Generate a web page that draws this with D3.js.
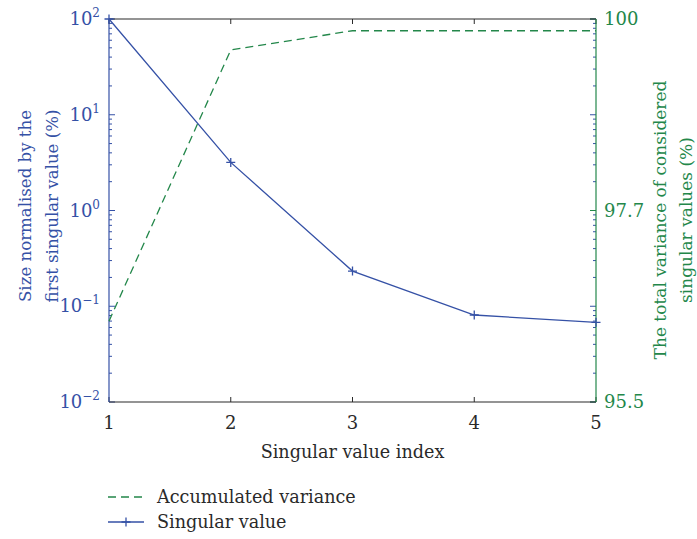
<!DOCTYPE html>
<html>
<head>
<meta charset="utf-8">
<script src="https://cdn.jsdelivr.net/npm/d3@7"></script>
<style>
  html, body { margin: 0; padding: 0; background: #fff; }
  svg text { font-family: "DejaVu Serif", "Liberation Serif", serif; }
</style>
</head>
<body>
<svg id="chart" width="697" height="539"></svg>
<script>
// Singular value spectrum with accumulated variance
const indices = [1, 2, 3, 4, 5];
const singularValues = [100, 3.18, 0.233, 0.081, 0.068];       // % of first singular value
const accumulatedVariance = [96.45, 99.636, 99.862, 99.862, 99.862]; // % of total variance

const xTicks = [1, 2, 3, 4, 5];
const leftTicks = [0.01, 0.1, 1, 10, 100];
const leftTickExponents = ["−2", "−1", "0", "1", "2"];
const rightTicks = [95.5, 97.75, 100];
const rightTickLabels = ["95.5", "97.7", "100"];

const blue = "#3551a6";
const green = "#23874a";
const ink = "#2a2a2a";

const svg = d3.select("#chart");
const m = { left: 109, right: 596, top: 19, bottom: 402 };

const x = d3.scaleLinear().domain([1, 5]).range([m.left, m.right]);
const yL = d3.scaleLog().domain([0.01, 100]).range([m.bottom, m.top]);
const yR = d3.scaleLinear().domain([95.5, 100]).range([m.bottom, m.top]);

const g = svg.append("g");

// minor log ticks for the left scale (mirrored on the right edge)
const minor = [];
for (let e = -2; e < 2; e++) for (let k = 2; k <= 9; k++) minor.push(k * Math.pow(10, e));

// left axis ticks (inward) and mirrored copies on right edge
const tickG = g.append("g").attr("stroke", blue).attr("stroke-width", 1);
minor.forEach(v => {
  const yy = yL(v);
  tickG.append("line").attr("x1", m.left).attr("x2", m.left + 3).attr("y1", yy).attr("y2", yy);
  tickG.append("line").attr("x1", m.right).attr("x2", m.right - 3).attr("y1", yy).attr("y2", yy);
});
leftTicks.forEach(v => {
  const yy = yL(v);
  tickG.append("line").attr("x1", m.left).attr("x2", m.left + 6).attr("y1", yy).attr("y2", yy);
  tickG.append("line").attr("x1", m.right).attr("x2", m.right - 6).attr("y1", yy).attr("y2", yy);
});

// right axis ticks
const tickR = g.append("g").attr("stroke", green).attr("stroke-width", 1);
rightTicks.forEach(v => {
  const yy = yR(v);
  tickR.append("line").attr("x1", m.right).attr("x2", m.right - 6).attr("y1", yy).attr("y2", yy);
});

// x ticks top and bottom
const tickX = g.append("g").attr("stroke", ink).attr("stroke-width", 1);
xTicks.forEach(v => {
  const xx = x(v);
  tickX.append("line").attr("x1", xx).attr("x2", xx).attr("y1", m.bottom).attr("y2", m.bottom - 5);
  tickX.append("line").attr("x1", xx).attr("x2", xx).attr("y1", m.top).attr("y2", m.top + 5);
});

// frame
g.append("line").attr("x1", m.left).attr("x2", m.right).attr("y1", m.top).attr("y2", m.top)
  .attr("stroke", ink).attr("stroke-width", 1.2);
g.append("line").attr("x1", m.left).attr("x2", m.right).attr("y1", m.bottom).attr("y2", m.bottom)
  .attr("stroke", ink).attr("stroke-width", 1.2);
g.append("line").attr("x1", m.left).attr("x2", m.left).attr("y1", m.top).attr("y2", m.bottom)
  .attr("stroke", blue).attr("stroke-width", 1.2);
g.append("line").attr("x1", m.right).attr("x2", m.right).attr("y1", m.top).attr("y2", m.bottom)
  .attr("stroke", green).attr("stroke-width", 1.2);

// tick labels
const fs = 18;
const fsTitle = 17;
xTicks.forEach(v => {
  g.append("text").attr("x", x(v)).attr("y", 429)
    .attr("text-anchor", "middle").attr("font-size", fs).attr("fill", ink).text(v);
});
leftTicks.forEach((v, i) => {
  const t = g.append("text").attr("x", 100).attr("y", yL(v) + 6)
    .attr("text-anchor", "end").attr("font-size", fs).attr("fill", blue);
  t.append("tspan").text("10");
  t.append("tspan").attr("dy", -8).attr("font-size", 12).text(leftTickExponents[i]);
});
rightTicks.forEach((v, i) => {
  g.append("text").attr("x", 604).attr("y", yR(v) + 6)
    .attr("text-anchor", "start").attr("font-size", fs).attr("fill", green).text(rightTickLabels[i]);
});

// axis titles
g.append("text").attr("x", (m.left + m.right) / 2).attr("y", 458)
  .attr("text-anchor", "middle").attr("font-size", 17.6).attr("fill", ink).text("Singular value index");

const lt = g.append("text").attr("transform", `translate(31,206) rotate(-90)`)
  .attr("text-anchor", "middle").attr("font-size", 16.6).attr("fill", blue);
lt.append("tspan").attr("x", 0).attr("dy", 0).text("Size normalised by the");
lt.append("tspan").attr("x", 0).attr("dy", 27).text("first singular value (%)");

const rt = g.append("text").attr("transform", `translate(666,220) rotate(-90)`)
  .attr("text-anchor", "middle").attr("font-size", fsTitle).attr("fill", green);
rt.append("tspan").attr("x", 0).attr("dy", 0).text("The total variance of considered");
rt.append("tspan").attr("x", 0).attr("dy", 26).text("singular values (%)");

// series
const varLine = d3.line().x((d, i) => x(indices[i])).y(d => yR(d));
g.append("path").datum(accumulatedVariance).attr("d", varLine)
  .attr("fill", "none").attr("stroke", green).attr("stroke-width", 1.3)
  .attr("stroke-dasharray", "8,5");

const svLine = d3.line().x((d, i) => x(indices[i])).y(d => yL(d));
g.append("path").datum(singularValues).attr("d", svLine)
  .attr("fill", "none").attr("stroke", blue).attr("stroke-width", 1.3);

const cross = (sel, cx, cy, r) => {
  sel.append("path").attr("d", `M${cx - r},${cy}H${cx + r}M${cx},${cy - r}V${cy + r}`)
    .attr("stroke", blue).attr("stroke-width", 1.3).attr("fill", "none");
};
singularValues.forEach((v, i) => cross(g, x(indices[i]), yL(v), 4.5));

// legend
const lg = g.append("g");
lg.append("line").attr("x1", 108).attr("x2", 144).attr("y1", 497).attr("y2", 497)
  .attr("stroke", green).attr("stroke-width", 1.3).attr("stroke-dasharray", "8,5");
lg.append("text").attr("x", 157).attr("y", 503).attr("font-size", 17.6).attr("fill", ink)
  .text("Accumulated variance");
lg.append("line").attr("x1", 108).attr("x2", 144).attr("y1", 522).attr("y2", 522)
  .attr("stroke", blue).attr("stroke-width", 1.3);
cross(lg, 126, 522, 4.5);
lg.append("text").attr("x", 157).attr("y", 528).attr("font-size", 17.6).attr("fill", ink)
  .text("Singular value");
</script>
</body>
</html>
